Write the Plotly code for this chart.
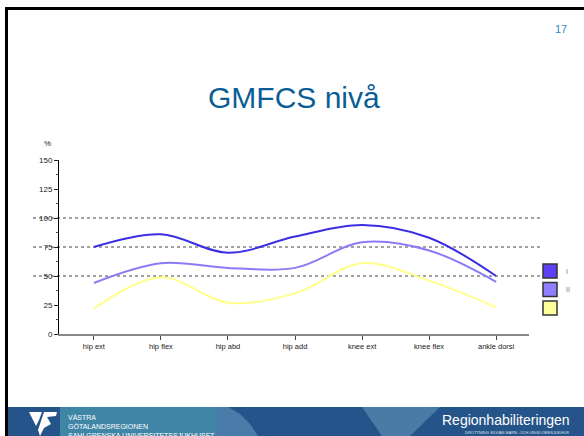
import plotly.graph_objects as go

# ---- data ----
categories = ["hip ext", "hip flex", "hip abd", "hip add", "knee ext", "knee flex", "ankle dorsi"]
series_names = ["I", "II", "III"]
level_I = [75, 86, 70, 84, 94, 83, 50]
level_II = [44, 61, 57, 57, 79, 72, 45]
level_III = [22, 49, 27, 35, 61, 46, 23]
legend_labels = ["I", "II", ""]
y_ticks = [0, 25, 50, 75, 100, 125, 150]
grid_levels = [50, 75, 100]

line_colors = ["#3a2ee4", "#8a7cf7", "#ffff8a"]
box_colors = ["#5b40f8", "#9080ff", "#ffff99"]

W, H = 584, 436
L, R, T, B = 59, 55, 160, 102
PW, PH = W - L - R, H - T - B


def px(x):
    return (x - L) / PW


def py(y):
    return (H - B - y) / PH


fig = go.Figure()
for name, vals, col in zip(series_names, [level_I, level_II, level_III], line_colors):
    fig.add_trace(go.Scatter(
        x=categories, y=vals, name=name, mode="lines",
        line=dict(color=col, width=2, shape="spline", smoothing=1.0),
        showlegend=False, hoverinfo="skip"))

shapes = []
# reference dotted lines
for g in grid_levels:
    shapes.append(dict(type="line", xref="paper", yref="y", x0=px(33), x1=px(543), y0=g, y1=g,
                       line=dict(color="#444444", width=1, dash="dot"), layer="below"))

# custom legend squares
for i, c in enumerate(box_colors):
    y0 = 264 + i * 18.5
    shapes.append(dict(type="rect", xref="paper", yref="paper", x0=px(543), x1=px(557),
                       y0=py(y0 + 14), y1=py(y0), fillcolor=c,
                       line=dict(color="#333333", width=1.5)))

# slide border (top and left)
shapes.append(dict(type="line", xref="paper", yref="paper", x0=px(5), x1=px(584), y0=py(8.5), y1=py(8.5),
                   line=dict(color="black", width=3)))
shapes.append(dict(type="line", xref="paper", yref="paper", x0=px(6.5), x1=px(6.5), y0=py(7), y1=py(436),
                   line=dict(color="black", width=3)))

# footer band
shapes.append(dict(type="rect", xref="paper", yref="paper", x0=px(8), x1=px(584), y0=py(436), y1=py(407),
                   fillcolor="#25548a", line=dict(width=0)))
shapes.append(dict(type="rect", xref="paper", yref="paper", x0=px(60), x1=px(215), y0=py(436), y1=py(407),
                   fillcolor="#3f85a6", line=dict(width=0)))


def path(points):
    s = "M" + " L".join(f"{px(x):.5f},{py(y):.5f}" for x, y in points) + " Z"
    return s


shapes.append(dict(type="path", xref="paper", yref="paper",
                   path=path([(215, 407), (228, 407), (240, 414), (250, 424), (258, 436), (215, 436)]),
                   fillcolor="#4a7caa", line=dict(width=0)))
shapes.append(dict(type="path", xref="paper", yref="paper",
                   path=path([(362, 407), (440, 407), (410, 436), (382, 436)]),
                   fillcolor="#4a7aa6", line=dict(width=0)))
# logo
shapes.append(dict(type="path", xref="paper", yref="paper",
                   path=path([(29, 412), (42, 412), (39, 420), (36, 426)]),
                   fillcolor="white", line=dict(width=0)))
shapes.append(dict(type="path", xref="paper", yref="paper",
                   path=path([(44, 412), (57, 412), (56, 416), (47, 417), (51, 424), (44, 428), (40, 436), (38, 430)]),
                   fillcolor="white", line=dict(width=0)))

annotations = [
    dict(text="GMFCS nivå", x=px(294), y=py(97), xref="paper", yref="paper", showarrow=False,
         font=dict(family="Liberation Sans, Arial", size=30, color="#0b5e95"), xanchor="center", yanchor="middle"),
    dict(text="17", x=px(561), y=py(29), xref="paper", yref="paper", showarrow=False,
         font=dict(family="Liberation Sans, Arial", size=11, color="#3a86c0"), xanchor="center", yanchor="middle"),
    dict(text="%", x=px(47), y=py(143), xref="paper", yref="paper", showarrow=False,
         font=dict(family="Liberation Sans, Arial", size=8, color="#222"), xanchor="center", yanchor="middle"),
    dict(text="VÄSTRA<br>GÖTALANDSREGIONEN<br>SAHLGRENSKA UNIVERSITETSSJUKHUSET", x=px(66), y=py(412),
         xref="paper", yref="paper", showarrow=False, align="left",
         font=dict(family="Liberation Sans, Arial", size=7, color="white"), xanchor="left", yanchor="top"),
    dict(text="Regionhabiliteringen", x=px(572), y=py(420), xref="paper", yref="paper", showarrow=False,
         font=dict(family="Liberation Sans, Arial", size=14, color="white"), xanchor="right", yanchor="middle"),
    dict(text="DROTTNING SILVIAS BARN- OCH UNGDOMSSJUKHUS", x=px(571), y=py(432), xref="paper", yref="paper",
         showarrow=False, font=dict(family="Liberation Sans, Arial", size=4, color="#dde6f0"),
         xanchor="right", yanchor="middle"),
]
for i, lab in enumerate(legend_labels):
    if lab:
        annotations.append(dict(text=lab, x=px(564), y=py(271 + i * 18.5), xref="paper", yref="paper",
                                showarrow=False, xanchor="left", yanchor="middle",
                                font=dict(family="Liberation Sans, Arial", size=7, color="#777")))

fig.update_layout(
    width=W, height=H, margin=dict(l=L, r=R, t=T, b=B, pad=0),
    paper_bgcolor="white", plot_bgcolor="white",
    font=dict(family="Liberation Sans, Arial", size=8, color="#222"),
    shapes=shapes, annotations=annotations, showlegend=False,
    xaxis=dict(type="category", categoryorder="array", categoryarray=categories,
               range=[-0.52, 6.49], showline=True, linecolor="#888888", linewidth=1.5,
               ticks="outside", ticklen=4, tickcolor="#444", tickfont=dict(size=7.5),
               showgrid=False, zeroline=False, fixedrange=True),
    yaxis=dict(range=[0, 150], tickvals=y_ticks, showline=True, linecolor="black", linewidth=1,
               ticks="outside", ticklen=4, tickcolor="#222", tickfont=dict(size=8),
               minor=dict(dtick=12.5, ticks="outside", ticklen=2, tickcolor="#444"),
               showgrid=False, zeroline=False, fixedrange=True),
)

fig.write_html("out.html", config={"displayModeBar": False},
               post_script="document.body.style.margin='0';document.body.style.overflow='hidden';")
